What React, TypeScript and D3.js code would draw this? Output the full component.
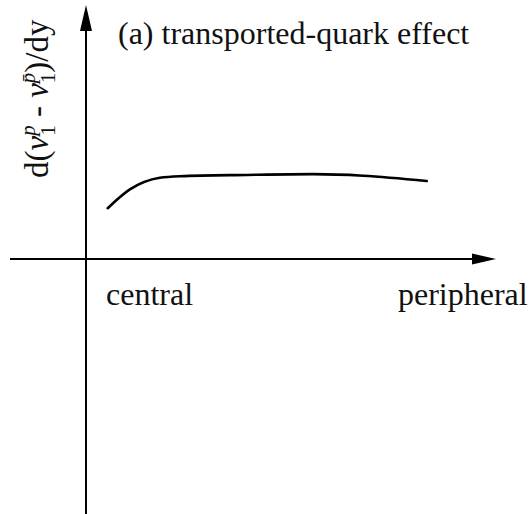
import React from "react";
import * as d3 from "d3";

// Schematic curve: centrality position (0 = central, 100 = peripheral) vs. slope difference
const centrality = [5.3, 10.7, 18.0, 22.9, 39.2, 55.4, 67.6, 83.1];
const slopeDiff = [20.0, 27.4, 32.0, 32.6, 33.1, 33.4, 32.8, 30.7];
const xLabels = ["central", "peripheral"];
const title = "(a) transported-quark effect";

const W = 529;
const H = 514;

export default function App() {
  const x = d3.scaleLinear().domain([0, 100]).range([86, 496]);
  const y = d3.scaleLinear().domain([0, 100]).range([259, 5]);

  const pts: [number, number][] = centrality.map((c, i) => [c, slopeDiff[i]]);
  const line = d3
    .line<[number, number]>()
    .x((d) => x(d[0]))
    .y((d) => y(d[1]))
    .curve(d3.curveMonotoneX);

  const x0 = x(0);
  const y0 = y(0);
  const font = "'Liberation Serif', 'Times New Roman', serif";
  const fs = 32;
  const ls = 33;
  const ss = 21;

  return (
    <svg
      width={W}
      height={H}
      style={{ position: "absolute", left: 0, top: 0, background: "#fff" }}
      fontFamily={font}
    >
      {/* vertical axis with arrow */}
      <line x1={x0} y1={H} x2={x0} y2={28} stroke="#000" strokeWidth={2} />
      <path d={`M${x0},${y(100)} L${x0 - 6},${y(100) + 26} L${x0 + 6},${y(100) + 26} Z`} fill="#000" />
      {/* horizontal axis with arrow */}
      <line x1={10} y1={y0} x2={473} y2={y0} stroke="#000" strokeWidth={2} />
      <path d={`M${x(100)},${y0} L${x(100) - 24},${y0 - 5.5} L${x(100) - 24},${y0 + 5.5} Z`} fill="#000" />

      <path d={line(pts) ?? ""} fill="none" stroke="#000" strokeWidth={2.6} strokeLinecap="round" />

      <text x={118} y={44} fontSize={fs} fill="#111">
        {title}
      </text>
      <text x={106} y={305} fontSize={fs} fill="#111">
        {xLabels[0]}
      </text>
      <text x={398} y={305} fontSize={fs} fill="#111">
        {xLabels[1]}
      </text>

      <text transform="translate(48,178) rotate(-90)" fontSize={ls} fill="#111">
        <tspan>d(</tspan>
        <tspan fontStyle="italic">v</tspan>
        <tspan fontSize={ss} dy={7}>1</tspan>
        <tspan fontSize={ss} fontStyle="italic" dx={-10.5} dy={-20}>p</tspan>
        <tspan dy={13}>{" - "}</tspan>
        <tspan fontStyle="italic">v</tspan>
        <tspan fontSize={ss} dy={7}>1</tspan>
        <tspan fontSize={ss} fontStyle="italic" dx={-10.5} dy={-20}>{"p\u0304"}</tspan>
        <tspan dy={13}>)/dy</tspan>
      </text>
    </svg>
  );
}
